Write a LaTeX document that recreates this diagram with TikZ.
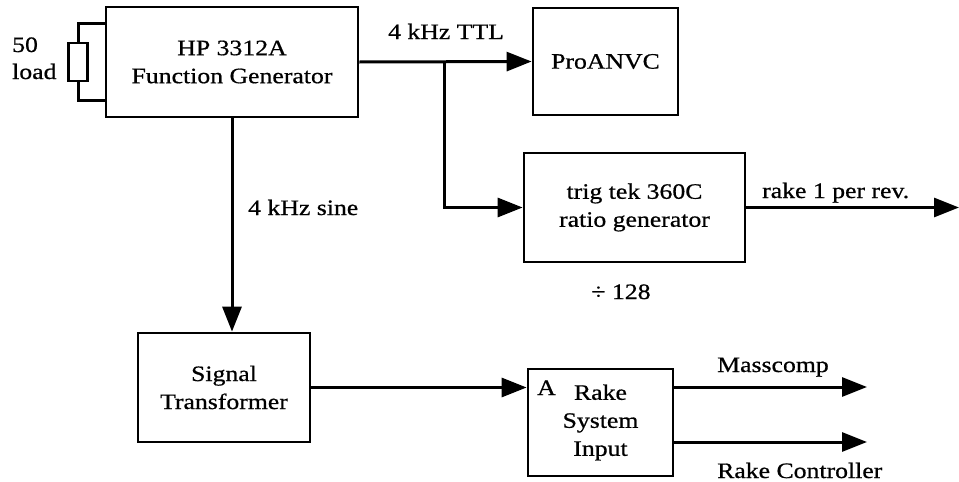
\documentclass[tikz,border=0pt]{standalone}
\usepackage{fontspec}
\setmainfont{Liberation Serif}[FakeStretch=1.17,FakeBold=0.7]
\usetikzlibrary{arrows.meta,calc}
\begin{document}
\begin{tikzpicture}[x=1pt,y=-1pt,
  txt/.style={font=\fontsize{22}{28}\selectfont},
  blk/.style={txt, draw, line width=2.8pt, inner sep=0pt, align=center},
  lbl/.style={txt, inner sep=0pt},
  wire/.style={line width=3pt},
  arr/.style={wire, -{Triangle[length=25pt,width=19pt]}}]
\useasboundingbox (0,0) rectangle (959,482);
% blocks
\node[blk, minimum width=252pt, minimum height=110pt] (hp) at (232,62) {HP 3312A\\Function Generator};
\node[blk, minimum width=145pt, minimum height=107pt] (pro) at (605.5,61.5) {ProANVC};
\node[blk, minimum width=221pt, minimum height=109pt] (trig) at (634.5,207.5) {trig tek 360C\\ratio generator};
\node[blk, minimum width=172pt, minimum height=109pt] (sig) at (224,387.5) {Signal\\Transformer};
\node[blk, minimum width=145pt, minimum height=107pt] (rake) at (600.5,422.5) {Rake\\System\\Input};
% load resistor
\node[draw, line width=2.6pt, minimum width=19pt, minimum height=38pt, inner sep=0pt] (res) at (78,62) {};
\draw[wire] ($(hp.west)+(0,-39)$) -| (res.north);
\draw[wire] ($(hp.west)+(0,38)$) -| (res.south);
% connectors
\coordinate (br) at (444,62);
\coordinate (out1) at (959,207.5);
\coordinate (m1) at (867,387);
\coordinate (m2) at (867,442);
\draw[arr] (hp.east) -- (pro.west);
\draw[arr] (br) |- (trig.west);
\draw[arr] (trig.east) -- (out1);
\draw[arr] (hp.south) -- (hp.south |- sig.north);
\draw[arr] (sig.east) -- (sig.east -| rake.west);
\draw[arr] (rake.east |- m1) -- (m1);
\draw[arr] (rake.east |- m2) -- (m2);
% labels
\node[lbl, anchor=base west] (l50) at (12,52) {50};
\node[lbl, anchor=base west] (lload) at (12,79) {load};
\node[lbl, anchor=base] (lttl) at (446,39) {4 kHz TTL};
\node[lbl, anchor=base west] (lsine) at (248,215) {4 kHz sine};
\node[lbl, anchor=base west] (lrev) at (762,198) {rake 1 per rev.};
\node[lbl, anchor=base] (ldiv) at (621,299) {÷ 128};
\node[lbl, anchor=base] (lmass) at (773,372) {Masscomp};
\node[lbl, anchor=base west] (lctrl) at (717,478) {Rake Controller};
\node[lbl, anchor=base west] (la) at (537,395) {A};
\end{tikzpicture}
\end{document}
